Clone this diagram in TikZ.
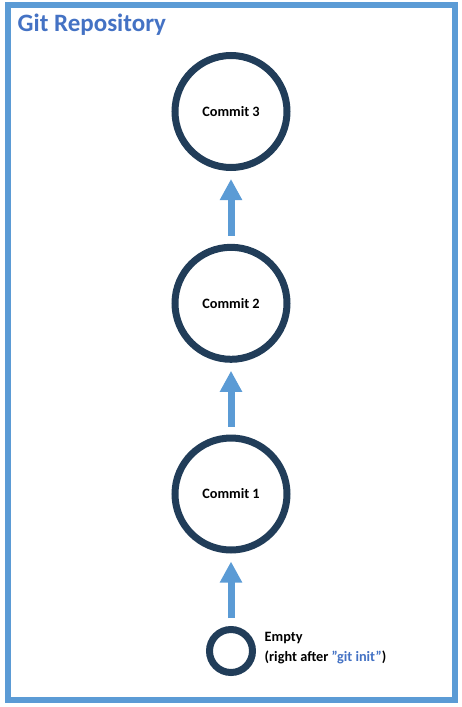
\documentclass[tikz,border=0pt]{standalone}
\usepackage{fontspec}
\setmainfont{Carlito}
\usetikzlibrary{arrows.meta}
\definecolor{navy}{HTML}{213D59}
\definecolor{lblue}{HTML}{5B9BD5}
\definecolor{tblue}{HTML}{4472C4}
\newcommand{\sq}{\symbol{34}}
\tikzset{
  commit/.style={circle, draw=navy, line width=7pt, minimum size=112pt, inner sep=0pt,
    font=\fontsize{14.3}{17}\selectfont\bfseries},
  emptycommit/.style={circle, draw=navy, line width=7pt, minimum size=43pt, inner sep=0pt},
  uparrow/.style={draw=lblue, line width=7pt, -{Triangle[width=21pt,length=21pt]},
    shorten >=8pt, shorten <=8pt},
  frame/.style={draw=lblue, line width=6pt},
  lbl/.style={font=\fontsize{14.3}{19.5}\selectfont\bfseries, align=left, inner sep=0pt, anchor=west}
}
\begin{document}
\begin{tikzpicture}[x=1pt,y=-1pt]
\useasboundingbox (0,0) rectangle (462,707);
\draw[frame] (8,5) rectangle (454.5,699.5);
\node[anchor=west, inner sep=0pt, text=tblue, font=\fontsize{25}{30}\selectfont\bfseries] (title) at (17.5,25) {Git Repository};
\node[commit] (c3) at (231,111.5) {Commit 3};
\node[commit] (c2) at (231,303.3) {Commit 2};
\node[commit] (c1) at (231,494) {Commit 1};
\node[emptycommit] (e) at (231,651) {};
\node[lbl] (elbl) at (264.5,648) {Empty\\(right after {\color{tblue}\sq git init\sq})};
\draw[uparrow] (e) -- (c1);
\draw[uparrow] (c1) -- (c2);
\draw[uparrow] (c2) -- (c3);
\end{tikzpicture}
\end{document}
